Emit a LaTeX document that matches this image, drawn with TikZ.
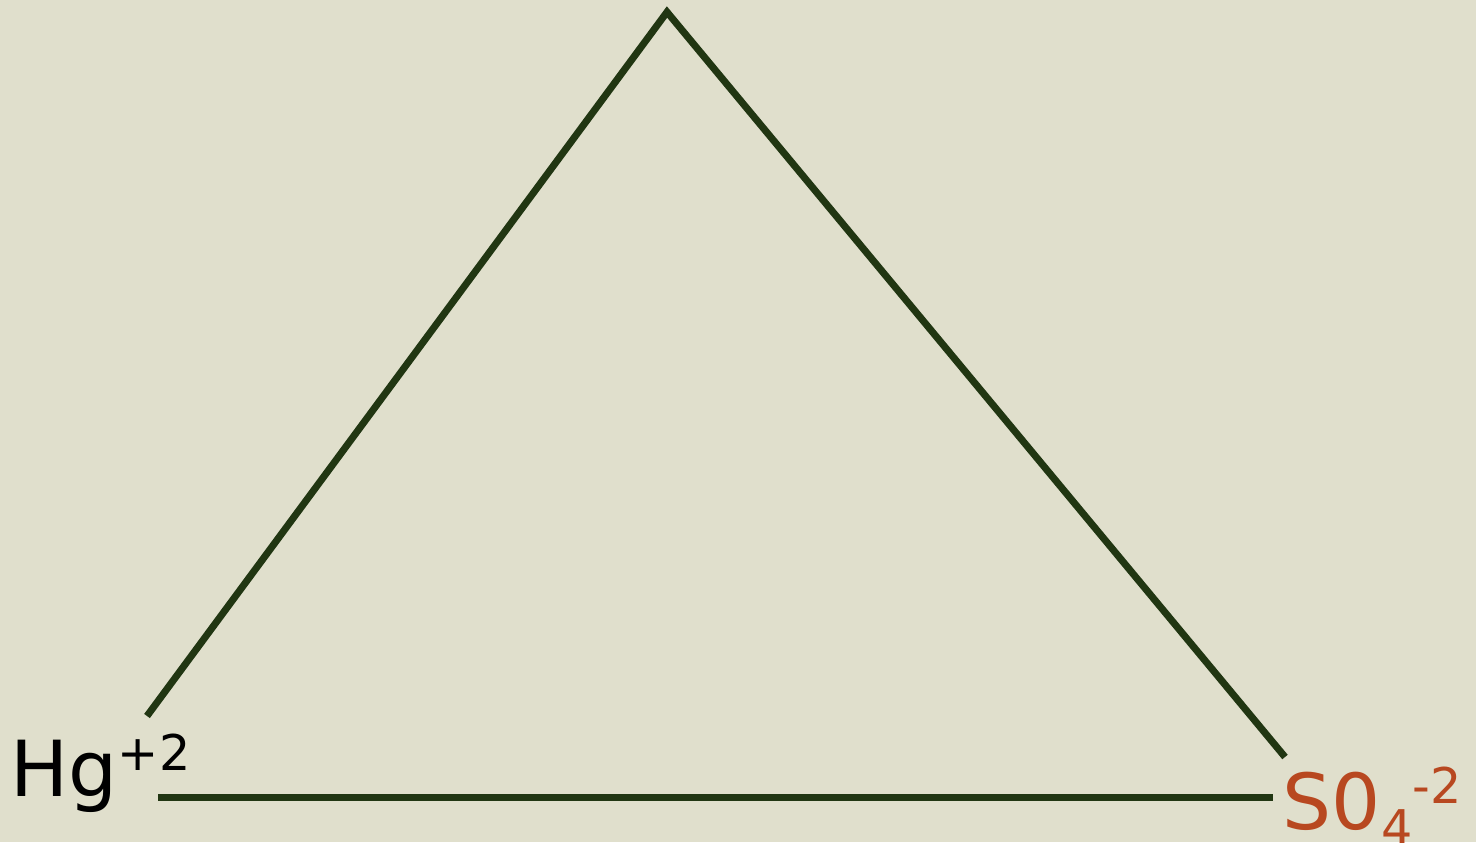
\documentclass[tikz,border=0pt]{standalone}
\usepackage{fontspec}
\setmainfont{DejaVu Sans}
\definecolor{paper}{RGB}{224,223,204}
\definecolor{edgegreen}{RGB}{33,54,18}
\definecolor{ionrust}{RGB}{184,72,32}
\tikzset{
  edge/.style={draw=edgegreen, line width=2pt},
  ion/.style={inner sep=0pt, anchor=base west, font=\fontsize{22}{26}\selectfont},
}
\newcommand{\ionsup}[1]{\raisebox{0.26cm}{\fontsize{14}{16}\selectfont #1}}
\newcommand{\ionsub}[1]{\raisebox{-0.16cm}{\fontsize{14}{16}\selectfont #1}}

\begin{document}
\begin{tikzpicture}
    \fill[paper] (0,0) rectangle (14.76,8.42);
    \useasboundingbox (0,0) rectangle (14.76,8.42);
    % corners of the triangle
    \coordinate (top) at (6.67,8.30);
    \coordinate (leftend) at (1.47,1.26);
    \coordinate (rightend) at (12.85,0.85);
    \coordinate (basel) at (1.58,0.45);
    \coordinate (baser) at (12.73,0.45);
    \draw[edge] (leftend) -- (top) -- (rightend);
    \draw[edge] (basel) -- (baser);
    % ion labels
    \node[ion] (hg) at (0.10,0.46) {Hg\ionsup{+2}};
    \node[ion, text=ionrust] (so) at (12.82,0.13) {S0\ionsub{4}\ionsup{-2}};
  \end{tikzpicture}
\end{document}
